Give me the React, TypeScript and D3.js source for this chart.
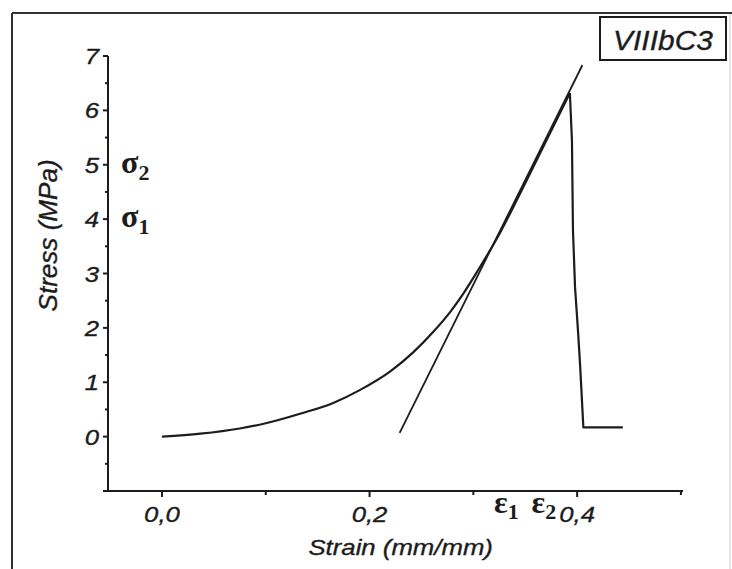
import React from "react";
import * as d3 from "d3";

// ---- data ----
const strain = [0, 0.037, 0.075, 0.101, 0.133, 0.165, 0.191, 0.22, 0.242, 0.261, 0.278, 0.29, 0.3, 0.326, 0.352, 0.393, 0.395, 0.396, 0.398, 0.401, 0.403, 0.406, 0.444];
const stress = [0, 0.055, 0.15, 0.25, 0.42, 0.62, 0.86, 1.2, 1.55, 1.92, 2.3, 2.62, 2.92, 3.76, 4.74, 6.32, 5.45, 3.79, 2.74, 1.9, 1.27, 0.17, 0.17];
const tangentStrain = [0.229, 0.405];
const tangentStress = [0.07, 6.83];

const xMajorTicks = [0, 0.2, 0.4];
const xTickLabels = ["0,0", "0,2", "0,4"];
const xMinorTicks = [0.1, 0.3, 0.5];
const yMajorTicks = [-1, 0, 1, 2, 3, 4, 5, 6, 7];
const yTickLabels = ["", "0", "1", "2", "3", "4", "5", "6", "7"];
const yMinorTicks = [-0.5, 0.5, 1.5, 2.5, 3.5, 4.5, 5.5, 6.5];

const sigmaLabels = [
  { base: "σ", sub: "2", value: 5 },
  { base: "σ", sub: "1", value: 4 },
];
const epsLabels = [
  { base: "ε", sub: "1", value: 0.32 },
  { base: "ε", sub: "2", value: 0.356 },
];

const xTitle = "Strain (mm/mm)";
const yTitle = "Stress (MPa)";
const sampleLabel = "VIIIbC3";

const INK = "#1c1c1c";
const SANS = "'Liberation Sans', Arial, sans-serif";
const SERIF = "'Liberation Serif', 'Times New Roman', serif";

export default function App() {
  const x = d3.scaleLinear().domain([-0.052, 0.502]).range([108, 683]);
  const y = d3.scaleLinear().domain([-1, 7]).range([491, 56]);

  const rising = strain.slice(0, 16).map((s, i) => [s, stress[i]] as [number, number]);
  const falling = strain.slice(15).map((s, i) => [s, stress[i + 15]] as [number, number]);
  const tangent = tangentStrain.map((s, i) => [s, tangentStress[i]] as [number, number]);
  const smooth = d3
    .line<[number, number]>()
    .x((d) => x(d[0]))
    .y((d) => y(d[1]))
    .curve(d3.curveMonotoneX);
  const straight = d3
    .line<[number, number]>()
    .x((d) => x(d[0]))
    .y((d) => y(d[1]));

  const x0 = x.range()[0];
  const yBase = y(-1);
  const textStroke = { stroke: INK, strokeWidth: 0.35 };

  return (
    <svg
      width={732}
      height={569}
      style={{ position: "absolute", left: 0, top: 0, background: "#fff" }}
    >
      <rect x={0} y={0} width={732} height={569} fill="#fff" />
      {/* outer frame */}
      <line x1={12} y1={13} x2={732} y2={13} stroke="#333" strokeWidth={2} />
      <line x1={12} y1={13} x2={12} y2={569} stroke="#333" strokeWidth={2} />
      <line x1={730} y1={14} x2={730} y2={569} stroke="#ccc" strokeWidth={1} />

      {/* axes */}
      <line x1={x0} y1={y(7)} x2={x0} y2={yBase} stroke={INK} strokeWidth={2} />
      <line x1={x0 - 5} y1={yBase} x2={x.range()[1]} y2={yBase} stroke={INK} strokeWidth={2} />

      {yMajorTicks.map((v, i) => (
        <g key={"ym" + i}>
          <line x1={x0 - 5} x2={x0} y1={y(v)} y2={y(v)} stroke={INK} strokeWidth={2} />
          {yTickLabels[i] && (
            <g transform={`translate(${x0 - 9},${y(v) + 8}) scale(1.12,1)`}>
              <text textAnchor="end" fontFamily={SANS} fontStyle="italic" fontSize={23} fill={INK} {...textStroke}>
                {yTickLabels[i]}
              </text>
            </g>
          )}
        </g>
      ))}
      {yMinorTicks.map((v, i) => (
        <line key={"yn" + i} x1={x0 - 3} x2={x0} y1={y(v)} y2={y(v)} stroke={INK} strokeWidth={2} />
      ))}

      {xMajorTicks.map((v, i) => (
        <g key={"xm" + i}>
          <line x1={x(v)} x2={x(v)} y1={yBase} y2={yBase + 6} stroke={INK} strokeWidth={2} />
          <g transform={`translate(${x(v)},${yBase + 31}) scale(1.12,1)`}>
            <text textAnchor="middle" fontFamily={SANS} fontStyle="italic" fontSize={23} fill={INK} {...textStroke}>
              {xTickLabels[i]}
            </text>
          </g>
        </g>
      ))}
      {xMinorTicks.map((v, i) => (
        <line key={"xn" + i} x1={x(v)} x2={x(v)} y1={yBase} y2={yBase + 4} stroke={INK} strokeWidth={2} />
      ))}

      {/* axis titles */}
      <g transform={`translate(${x(0.23)},${yBase + 64}) scale(1.12,1)`}>
        <text textAnchor="middle" fontFamily={SANS} fontStyle="italic" fontSize={23} fill={INK} {...textStroke}>
          {xTitle}
        </text>
      </g>
      <g transform={`translate(57,${y(3.7)}) rotate(-90)`}>
        <text
          textAnchor="middle"
          fontFamily={SANS}
          fontStyle="italic"
          fontSize={25}
          fill={INK}
          textLength={152}
          lengthAdjust="spacingAndGlyphs"
          {...textStroke}
        >
          {yTitle}
        </text>
      </g>

      {/* data */}
      <path d={smooth(rising) || ""} fill="none" stroke={INK} strokeWidth={2.2} strokeLinejoin="round" />
      <path d={straight(falling) || ""} fill="none" stroke={INK} strokeWidth={2.2} strokeLinejoin="round" />
      <path d={straight(tangent) || ""} fill="none" stroke={INK} strokeWidth={1.8} />

      {/* sigma labels */}
      {sigmaLabels.map((l, i) => (
        <text key={"s" + i} x={x0 + 13} y={y(l.value) + 8} fontFamily={SERIF} fontWeight="bold" fontSize={32} fill={INK}>
          {l.base}
          <tspan fontSize={22} dy={7}>{l.sub}</tspan>
        </text>
      ))}
      {/* epsilon labels */}
      {epsLabels.map((l, i) => (
        <text key={"e" + i} x={x(l.value)} y={yBase + 22} fontFamily={SERIF} fontWeight="bold" fontSize={32} fill={INK}>
          {l.base}
          <tspan fontSize={22} dy={6}>{l.sub}</tspan>
        </text>
      ))}

      {/* sample label box */}
      <rect x={600} y={17} width={126} height={43} fill="#fff" stroke={INK} strokeWidth={2} />
      <g transform={`translate(663,50) scale(1.07,1)`}>
        <text textAnchor="middle" fontFamily={SANS} fontStyle="italic" fontSize={28} fill={INK} {...textStroke}>
          {sampleLabel}
        </text>
      </g>
    </svg>
  );
}
